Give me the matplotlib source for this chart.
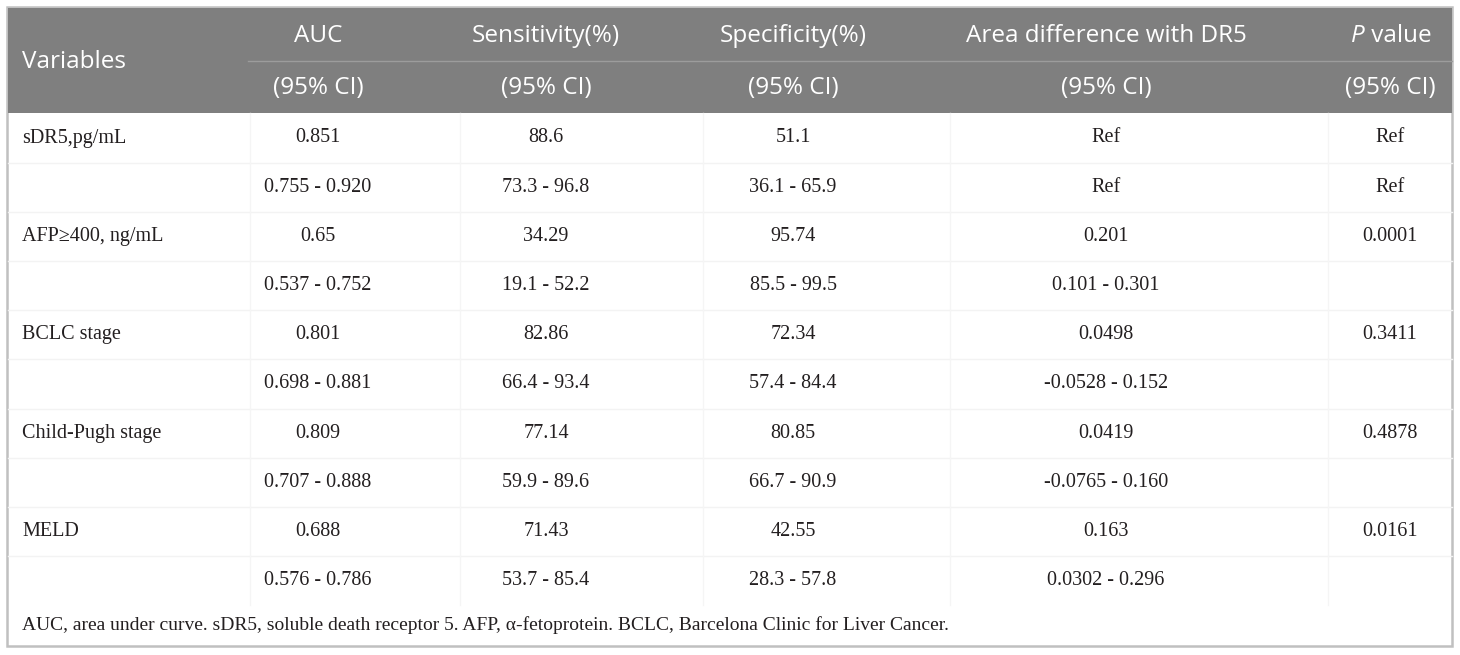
from matplotlib import pyplot as plt
from matplotlib.patches import Rectangle

# table content
header_top = ['AUC', 'Sensitivity(%)', 'Specificity(%)', 'Area difference with DR5', 'P value']
header_sub = ['(95% CI)', '(95% CI)', '(95% CI)', '(95% CI)', '(95% CI)']
variables = ['sDR5,pg/mL', 'AFP\u2265400, ng/mL', 'BCLC stage', 'Child-Pugh stage', 'MELD']
auc = ['0.851', '0.65', '0.801', '0.809', '0.688']
auc_ci = ['0.755 - 0.920', '0.537 - 0.752', '0.698 - 0.881', '0.707 - 0.888', '0.576 - 0.786']
sens = ['88.6', '34.29', '82.86', '77.14', '71.43']
sens_ci = ['73.3 - 96.8', '19.1 - 52.2', '66.4 - 93.4', '59.9 - 89.6', '53.7 - 85.4']
spec = ['51.1', '95.74', '72.34', '80.85', '42.55']
spec_ci = ['36.1 - 65.9', '85.5 - 99.5', '57.4 - 84.4', '66.7 - 90.9', '28.3 - 57.8']
area = ['Ref', '0.201', '0.0498', '0.0419', '0.163']
area_ci = ['Ref', '0.101 - 0.301', '-0.0528 - 0.152', '-0.0765 - 0.160', '0.0302 - 0.296']
pval = ['Ref', '0.0001', '0.3411', '0.4878', '0.0161']
pval_ci = ['Ref', '', '', '', '']
footnote = ('AUC, area under curve. sDR5, soluble death receptor 5. AFP, \u03b1-fetoprotein. '
            'BCLC, Barcelona Clinic for Liver Cancer.')

W, H = 1460, 655
col_x = [318, 546, 793, 1106, 1390]
col_sep = [250, 460, 703, 950, 1328]
row0 = 138
row_h = 49.2

fig = plt.figure(figsize=(W / 100, H / 100), dpi=100)
ax = fig.add_axes([0, 0, 1, 1])
ax.set_xlim(0, W)
ax.set_ylim(H, 0)
ax.axis('off')

head_font = dict(family='Open Sans', fontsize=17.5, color='white', va='center')
body_font = dict(family='Liberation Serif', fontsize=14.5, color='#231f20', va='center')

# outer border and header band
ax.add_patch(Rectangle((7, 7), 1445, 639, facecolor='white', edgecolor='#c0c0c0', lw=1.8))
ax.add_patch(Rectangle((8, 8), 1444, 105, facecolor='#7f7f7f', edgecolor='none'))
ax.plot([248, 1452], [61, 61], color='#9c9c9c', lw=1)

ax.text(22, 62, 'Variables', ha='left', **head_font)
for i, (t, s) in enumerate(zip(header_top, header_sub)):
    if t == 'P value':
        ax.text(col_x[i] - 25, 36, 'P', ha='right', style='italic', **head_font)
        ax.text(col_x[i] - 25, 36, ' value', ha='left', **head_font)
    else:
        ax.text(col_x[i], 36, t, ha='center', **head_font)
    ax.text(col_x[i], 88, s, ha='center', **head_font)

# faint grid lines in the body
n_rows = 2 * len(variables)
for k in range(1, n_rows):
    y = row0 + (k - 0.5) * row_h
    ax.plot([8, 1452], [y, y], color='#f3f3f3', lw=1)
body_bottom = row0 + (n_rows - 0.5) * row_h
for x in col_sep:
    ax.plot([x, x], [113, body_bottom], color='#f5f5f5', lw=1)

columns = [(auc, auc_ci), (sens, sens_ci), (spec, spec_ci), (area, area_ci), (pval, pval_ci)]
for r, name in enumerate(variables):
    y1 = row0 + 2 * r * row_h
    y2 = y1 + row_h
    ax.text(22, y1, name, ha='left', **body_font)
    for i, (vals, cis) in enumerate(columns):
        ax.text(col_x[i], y1, vals[r], ha='center', **body_font)
        ax.text(col_x[i], y2, cis[r], ha='center', **body_font)

ax.text(22, 625, footnote, ha='left', family='Liberation Serif', fontsize=14,
        color='#231f20', va='center')

fig.savefig('out.png', dpi=100)
